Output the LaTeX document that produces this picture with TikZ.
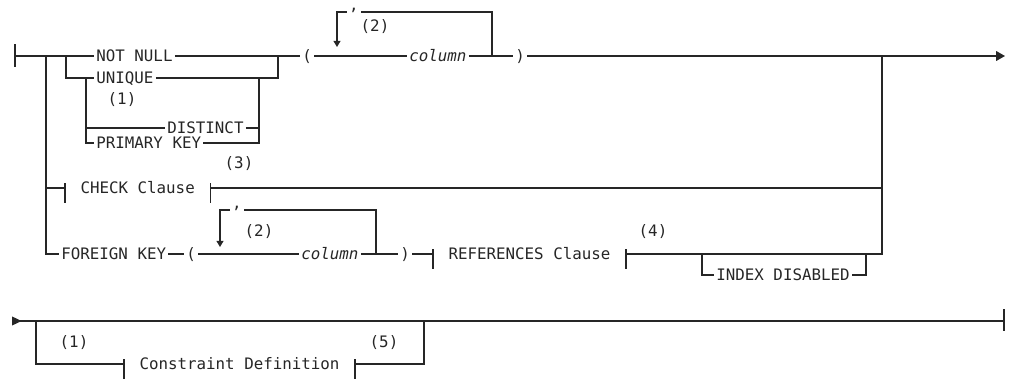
\documentclass[tikz,border=0pt]{standalone}
\usepackage{fontspec}
\newfontfamily\railfont{DejaVu Sans Mono}
\usetikzlibrary{arrows.meta}

\begin{document}
\begin{tikzpicture}[x=0.02cm,y=-0.02cm,line width=0.7pt,color=black!85,
  every node/.style={font=\railfont\fontsize{9pt}{10pt}\selectfont},
  kw/.style={anchor=west,inner xsep=1pt,inner ysep=0pt,text height=6.6pt,text depth=0pt},
  frag/.style={kw,inner xsep=8.5pt},
  note/.style={inner sep=0pt},
  sep/.style={fill=white,inner xsep=1pt,inner ysep=0.3pt,anchor=south},
  tip/.style={-{Triangle[length=3.5pt,width=4pt]}},
  endtip/.style={-{Triangle[length=5pt,width=5.5pt]}},
  starttip/.style={{Triangle[reversed,length=5.5pt,width=5pt]}-}]
  \useasboundingbox (0,0) rectangle (1012,379);

  % row one: column constraints
  \coordinate (s1) at (15,56);
  \coordinate (e1) at (1005,56);
  \coordinate (j1) at (46,56);
  \coordinate (j2) at (66,56);
  \coordinate (j3) at (278,56);
  \coordinate (j4) at (492,56);
  \coordinate (j5) at (882,56);
  \coordinate (j6) at (86,78);
  \coordinate (j7) at (259,78);
  \coordinate (t1) at (337,12);

  \node[kw] (nn) at (94,56) {NOT NULL};
  \node[kw] (uq) at (94,78) {UNIQUE};
  \node[kw] (dst) at (165,128) {DISTINCT};
  \node[kw] (pk) at (94,143) {PRIMARY KEY};
  \node[kw] (lp1) at (300,56) {(};
  \node[kw] (col1) at (407,56) {\textit{column}};
  \node[kw] (rp1) at (513,56) {)};
  \node[note] (n1) at (122,100) {(1)};
  \node[note] (n2) at (375,27) {(2)};

  \draw (s1) ++(0,-12) -- ++(0,23);
  \draw (s1) -- (nn.west);
  \draw (nn.east) -- (lp1.west);
  \draw (lp1.east) -- (col1.west);
  \draw (col1.east) -- (rp1.west);
  \draw[endtip] (rp1.east) -- (e1);
  \draw (j2) |- (uq.west);
  \draw (uq.east) -| (j3);
  \draw (j6) |- (pk.west);
  \draw (j6 |- dst.west) -- (dst.west);
  \draw (pk.east) -| (j7);
  \draw (dst.east) -- (j7 |- dst.east);
  \draw[tip] (j4) |- (t1) -- ++(0,35);
  \node[sep] (c1) at (354,14) {,};

  % check and foreign key branches
  \coordinate (j8) at (376,254);
  \coordinate (j9) at (702,254);
  \coordinate (j10) at (866,254);
  \coordinate (t2) at (220,210);

  \node[frag] (chk) at (65,188) {CHECK Clause};
  \node[kw] (fk) at (59,254) {FOREIGN KEY};
  \node[kw] (lp2) at (184,254) {(};
  \node[kw] (col2) at (299,254) {\textit{column}};
  \node[kw] (rp2) at (398,254) {)};
  \node[frag] (refs) at (433,254) {REFERENCES Clause};
  \node[kw] (idx) at (714,275) {INDEX DISABLED};
  \node[note] (n3) at (239,164) {(3)};
  \node[note] (n2b) at (259,232) {(2)};
  \node[note] (n4) at (653,232) {(4)};

  \draw (j1) |- (fk.west);
  \draw (j1 |- chk.west) -- (chk.west);
  \draw (chk.east) -- (j5 |- chk.east);
  \draw (j5) |- (refs.east);
  \draw (fk.east) -- (lp2.west);
  \draw (lp2.east) -- (col2.west);
  \draw (col2.east) -- (rp2.west);
  \draw (rp2.east) -- (refs.west);
  \draw[tip] (j8) |- (t2) -- ++(0,37);
  \node[sep] (c2) at (237,212) {,};
  \draw (j9) |- (idx.west);
  \draw (idx.east) -| (j10);

  % row two: repeated constraint definitions
  \coordinate (s2) at (12,321);
  \coordinate (e2) at (1004,321);
  \coordinate (j11) at (36,321);
  \coordinate (j12) at (424,321);

  \node[frag] (cdef) at (124,364) {Constraint Definition};
  \node[note] (n1b) at (74,343) {(1)};
  \node[note] (n5) at (384,343) {(5)};

  \draw[starttip] (s2) -- (e2);
  \draw (e2) ++(0,-12) -- ++(0,22);
  \draw (j11) |- (cdef.west);
  \draw (cdef.east) -| (j12);

  % fragment ticks
  \foreach \n in {chk,refs,cdef}
    \draw (\n.west) ++(0,-5) -- ++(0,20) (\n.east) ++(0,-5) -- ++(0,20);
\end{tikzpicture}
\end{document}
